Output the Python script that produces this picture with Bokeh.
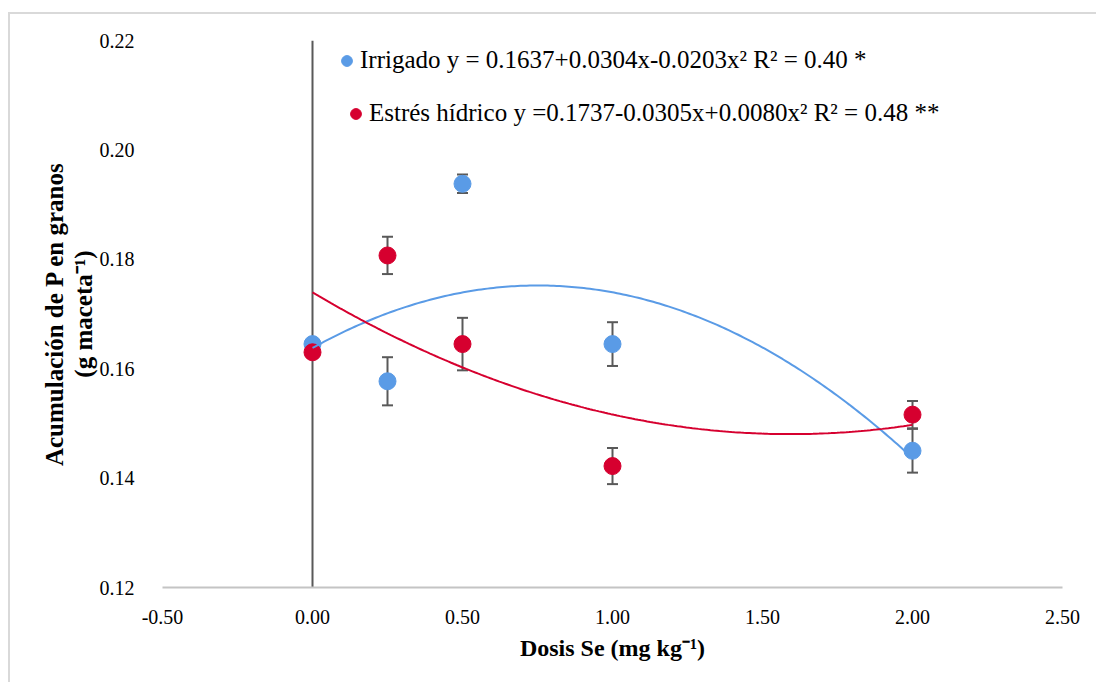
import numpy as np
from bokeh.plotting import figure
from bokeh.models import (ColumnDataSource, Whisker, TeeHead, Span, Range1d,
                          SingleIntervalTicker, NumeralTickFormatter, Legend,
                          LegendItem)
from bokeh.embed import file_html
from bokeh.resources import INLINE

# Se dose (mg kg-1) and P accumulation in grain (g pot-1), means and error bars
dosis = [0.0, 0.25, 0.5, 1.0, 2.0]
irrigado = [0.1645, 0.1577, 0.1938, 0.1645, 0.1450]
irrigado_err = [0.0010, 0.0044, 0.0017, 0.0040, 0.0040]
estres = [0.1630, 0.1807, 0.1645, 0.1422, 0.1516]
estres_err = [0.0010, 0.0034, 0.0048, 0.0033, 0.0025]

label_irrigado = "Irrigado y = 0.1637+0.0304x-0.0203x\u00b2 R\u00b2 = 0.40 *"
label_estres = "Estr\u00e9s h\u00eddrico y =0.1737-0.0305x+0.0080x\u00b2 R\u00b2 = 0.48 **"

BLUE = "#5a9be6"
RED = "#d6002f"
GREY = "#595959"
SERIF = "Liberation Serif"

# chart area sits inside a light frame offset 8px / 12px from the page corner
p = figure(width=1088, height=670, output_backend="svg", toolbar_location=None,
           x_range=Range1d(-0.5, 2.5), y_range=Range1d(0.12, 0.22),
           min_border_left=152, min_border_right=36, min_border_top=26,
           min_border_bottom=97)
p.styles = {"margin-left": "8px", "margin-top": "12px",
            "border-left": "2px solid #d9d9d9", "border-top": "2px solid #d9d9d9"}
p.outline_line_color = None
p.xgrid.visible = False
p.ygrid.visible = False
p.background_fill_color = "white"
p.border_fill_color = "white"

# axes
p.xaxis.ticker = SingleIntervalTicker(interval=0.5)
p.yaxis.ticker = SingleIntervalTicker(interval=0.02)
p.xaxis.formatter = NumeralTickFormatter(format="0.00")
p.yaxis.formatter = NumeralTickFormatter(format="0.00")
for ax in (p.xaxis, p.yaxis):
    ax.major_tick_line_color = None
    ax.minor_tick_line_color = None
    ax.major_label_text_font = SERIF
    ax.major_label_text_font_size = "20px"
    ax.major_label_text_color = "#000000"
    ax.axis_label_text_font = SERIF
    ax.axis_label_text_font_style = "bold"
    ax.axis_label_text_color = "#000000"
p.yaxis.axis_line_color = None
p.yaxis.major_label_standoff = 22
p.yaxis.axis_label = "Acumulaci\u00f3n de P en granos\n(g maceta\u207b\u00b9)"
p.yaxis.axis_label_text_font_size = "25px"
p.yaxis.axis_label_text_line_height = 1.05
p.yaxis.axis_label_standoff = 0
p.xaxis.axis_line_color = "#c4c4c4"
p.xaxis.axis_line_width = 2
p.xaxis.major_label_standoff = 16
p.xaxis.axis_label = "Dosis Se (mg kg\u207b\u00b9)"
p.xaxis.axis_label_text_font_size = "24px"
p.xaxis.axis_label_standoff = 8

# vertical axis line crossing at x = 0
p.add_layout(Span(location=0, dimension="height", line_color=GREY,
                  line_width=2, level="underlay"))

src_i = ColumnDataSource(dict(x=dosis, y=irrigado,
                              lo=[v - e for v, e in zip(irrigado, irrigado_err)],
                              hi=[v + e for v, e in zip(irrigado, irrigado_err)]))
src_e = ColumnDataSource(dict(x=dosis, y=estres,
                              lo=[v - e for v, e in zip(estres, estres_err)],
                              hi=[v + e for v, e in zip(estres, estres_err)]))

for src in (src_i, src_e):
    p.add_layout(Whisker(base="x", lower="lo", upper="hi", source=src,
                         line_color=GREY, line_width=2, level="underlay",
                         upper_head=TeeHead(size=11, line_color=GREY, line_width=2),
                         lower_head=TeeHead(size=11, line_color=GREY, line_width=2)))

r_i = p.scatter("x", "y", source=src_i, size=17, fill_color=BLUE, line_color=BLUE)
r_e = p.scatter("x", "y", source=src_e, size=17, fill_color=RED, line_color=RED)

# polynomial (order 2) trendlines over the dose range
xs = np.linspace(min(dosis), max(dosis), 200)
ci = np.polyfit(dosis, irrigado, 2)
ce = np.polyfit(dosis, estres, 2)
p.line(xs, np.polyval(ci, xs), line_color=BLUE, line_width=2)
p.line(xs, np.polyval(ce, xs), line_color=RED, line_width=2)

# two single-entry legends, the second one slightly indented
for item, loc in ((LegendItem(label=label_irrigado, renderers=[r_i]), (171, 513)),
                  (LegendItem(label=label_estres, renderers=[r_e]), (180, 460))):
    leg = Legend(items=[item], location=loc, padding=0, margin=0, spacing=0,
                 glyph_width=27, glyph_height=27, label_standoff=0,
                 label_text_font=SERIF, label_text_font_size="25px",
                 label_text_color="#000000", border_line_color=None,
                 background_fill_alpha=0)
    p.add_layout(leg, "center")

open("out.html", "w").write(file_html(p, INLINE))
